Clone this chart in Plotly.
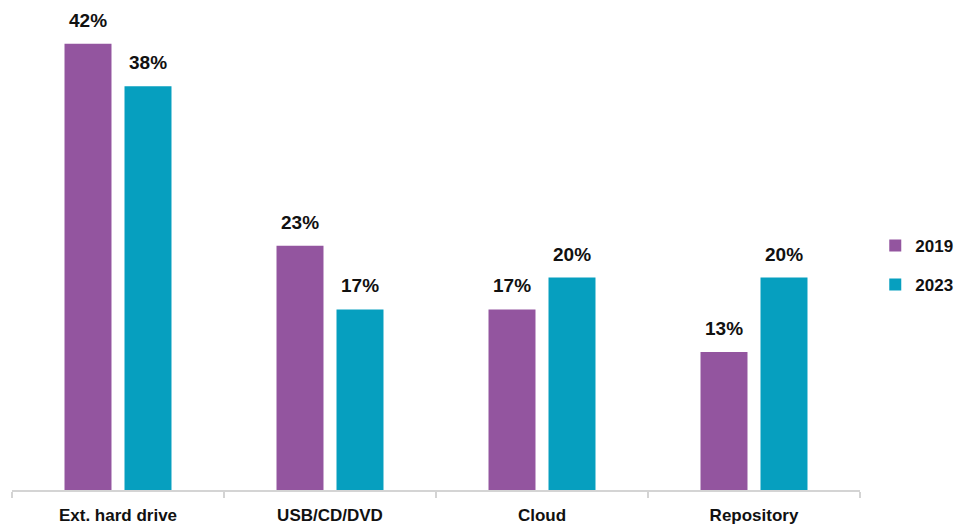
import plotly.graph_objects as go

# Storage locations and share of respondents per survey year
categories = ["Ext. hard drive", "USB/CD/DVD", "Cloud", "Repository"]
years = ["2019", "2023"]
values_2019 = [42, 23, 17, 13]
values_2023 = [38, 17, 20, 20]

colors = {"2019": "#93559F", "2023": "#069FBF"}
series = {"2019": values_2019, "2023": values_2023}

font_family = "Liberation Sans, Arial, sans-serif"

fig = go.Figure()
for yr in years:
    fig.add_trace(go.Bar(
        name=yr,
        legendgroup=yr,
        x=categories,
        y=series[yr],
        marker=dict(color=colors[yr], line=dict(width=0)),
    ))

# Value labels above each bar
offsets = {"2019": -30, "2023": 30}
for yr in years:
    for cat, v in zip(categories, series[yr]):
        fig.add_annotation(
            x=cat, y=v, xref="x", yref="y",
            text=f"{v}%", showarrow=False,
            xshift=offsets[yr], yshift=11, yanchor="bottom",
            font=dict(family=font_family, size=19, color="#111111", weight="bold"),
        )

fig.update_layout(
    width=959, height=525,
    margin=dict(l=12, r=99, t=12, b=35, autoexpand=False),
    paper_bgcolor="white", plot_bgcolor="white",
    barmode="group",
    bargap=0.434, bargroupgap=0.217,
    showlegend=True,
    legend=dict(
        x=1.018, y=0.47, xanchor="left", yanchor="middle",
        font=dict(family=font_family, size=17, color="#111111", weight="bold"),
        itemwidth=30, traceorder="grouped", tracegroupgap=14,
    ),
    xaxis=dict(
        type="category", range=[-0.5, 3.5], automargin=False,
        showline=True, linecolor="#d4d4d4", linewidth=1.5,
        ticks="outside", tickson="boundaries", ticklen=6,
        tickcolor="#d4d4d4", tickwidth=1.5,
        ticklabelstandoff=9,
        tickfont=dict(family=font_family, size=17, color="#111111", weight="bold"),
        showgrid=False,
    ),
    yaxis=dict(
        range=[0, 45], visible=False, showgrid=False, zeroline=False,
        automargin=False,
    ),
)

fig.write_html("out.html")
